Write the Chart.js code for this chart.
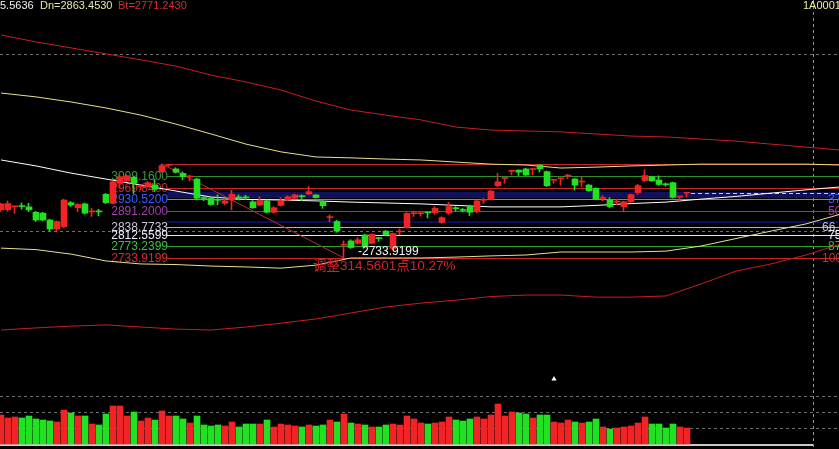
<!DOCTYPE html>
<html><head><meta charset="utf-8">
<style>html,body{margin:0;padding:0;background:#000;overflow:hidden}</style>
<script src="https://cdn.jsdelivr.net/npm/chart.js@4.4.1/dist/chart.umd.min.js"></script>
</head><body>
<canvas id="c" width="839" height="449" style="display:block;width:839px;height:449px"></canvas>
<script>
// ---- candle data (index 0..98) ----
const opens = [2895,2896,2905,2909,2905,2887,2884,2861,2831,2839, 2919,2902,2915,2888,2890,2947,2917,2984,2993,3004, 2972,2973,2978,3023,3044,3032,3017,3005,2998,2935, 2934,2929,2917,2928,2936,2936,2922,2911,2925,2887, 2910,2928,2934,2940,2948,2945,2922,2869,2856,2777, 2791,2783,2811,2783,2801,2824,2766,2821,2836,2882, 2882,2886,2886,2853,2884,2901,2895,2906,2889,2927, 2930,2976,3000,3024,3028,3032,3030,3045,3023,2994, 2999,3008,2998,2988,2978,2967,2933,2928,2921,2906, 2922,2953,2993,3006,2995,2981,2986,2938,2951];
const highs = [2918,2925,2908,2918,2917,2890,2887,2864,2858,2931, 2923,2916,2918,2900,2897,2950,2992,3012,3012,3006, 2978,2990,2998,3048.48,3046,3036,3022,3011,3001,2940, 2937,2945,2930,2961,2945,2944,2926,2939,2928,2906, 2936,2942,2948,2945,2973,2946,2925,2878,2860,2791, 2795,2802,2813,2815,2802,2826,2818,2831,2886,2891, 2887,2887,2906,2872,2920,2906,2900,2911,2928,2934, 2960,3017,3002,3028,3029,3034,3034,3046,3025,2996, 3002,3014,3000,3006,2980,2969,2943,2936,2931,2924, 2948,2981,3029,3008,3009,2985,2988,2940,2953];
const lows = [2890,2890,2884,2897,2889,2856,2858,2825,2825,2836, 2906,2889,2881,2873,2875,2916,2915,2967,2990,2950, 2962,2970,2956,3020,3040,3018,2995,2992,2928,2926, 2910,2912,2912,2895,2928,2929,2900,2908,2885,2884, 2908,2926,2931,2925,2946,2934,2900,2856,2820,2733.9199, 2766,2780,2768,2781,2790,2809,2760,2812,2834,2873, 2874,2868,2880,2850,2880,2891,2888,2876,2885,2917, 2928,2973,2984,3012,3010,3010,3012,3022,2973,2984, 2978,3000,2961,2973,2957,2929,2925,2902,2912,2891, 2920,2947,2989,2990,2977,2974,2934,2925,2939];
const closes = [2915,2916,2907,2906,2895,2861,2861,2831,2856,2928, 2911,2913,2884,2890,2888,2919,2989,3006,3009,2984, 2974,2986,2964,3043,3045,3021,3006,3007,2934,2933, 2913,2927,2925,2947,2935,2935,2902,2926,2887,2902, 2925,2939,2945,2939,2956,2936,2909,2871,2824,2780, 2769,2795,2772,2813,2799,2811,2816,2823,2883,2884, 2883,2885,2900,2869,2906,2899,2893,2887,2925,2929, 2958,2989,3001,3026,3021,3012,3032,3032,2976,2995, 3001,3010,2978,2990,2959,2931,2935,2906,2923,2922, 2946,2976,3010,2992,2980,2979,2937,2939,2952];
const volumes = [87,78,81,78,84,75,72,69,66,102, 93,84,84,60,57,90,114,114,84,96, 69,78,72,99,84,84,75,63,84,57, 54,57,54,66,51,60,60,60,72,51, 60,57,54,51,57,54,57,72,66,90, 63,60,57,51,51,57,60,57,84,75, 63,60,63,66,81,72,69,75,81,75, 87,120,84,96,93,90,78,87,87,66, 63,72,66,63,66,75,51,45,48,51, 54,63,81,60,60,48,60,51,48];

// ---- indicator lines sampled at these indices ----
const bandIdx = [0,5,10,15,20,25,30,35,40,45,50,55,60,65,70,75,80,85,90,95,100,105,110,115,120];
const upperRed = [3480,3457,3437,3417,3397,3376,3346,3323,3296,3259,3229,3212,3196,3172,3162,3159,3156,3149,3142,3139,3132,3125,3115,3105,3095];
const upperYellow = [3286,3273,3256,3236,3212,3182,3149,3115,3089,3072,3069,3065,3062,3055,3048,3045,3035,3038,3042,3045,3048,3048,3048,3048,3045];
const midWhite = [3062,3042,3018,2998,2978,2958,2938,2930,2928,2925,2921,2918,2915,2910,2905,2905,2905,2910,2916,2921,2931,2940,2951,2962,2972];
const lowerYellow = [2767,2762,2747,2724,2714,2712,2707,2704,2700,2710,2734,2734,2734,2737,2741,2744,2754,2754,2754,2757,2774,2799,2824,2848,2881];
const lowerRed = [2493,2500,2506,2510,2503,2496,2493,2503,2516,2530,2550,2570,2583,2593,2605,2610,2610,2603,2603,2607,2647,2690,2714,2744,2781];

// ---- fibonacci tool ----
const fibHighIdx = 23, fibLowIdx = 49;
const fibHigh = 3048.48, fibLow = 2733.9199;
const fibLevels = [3048.48, 3009.16, 2969.84, 2943.63, 2930.52, 2891.20, 2854.07, 2838.7733, 2812.5599, 2773.2399, 2733.9199];
const fibLabels = ['', '3009.1600', '2969.8400', '', '2930.5200', '2891.2000', '', '2838.7733', '2812.5599', '2773.2399', '2733.9199'];
const fibPct = ['', '', '', '', '37.5%', '50.0%', '', '66.7%', '75.0%', '87.5%', '100.0%'];
const fibColors = ['#c02828','#2e8f2e','#c02828','#10105c','#7c88a8','#903090','#0c0c60','#b0b0c0','#e8e8f8','#2ea02e','#c02828'];
const fibLabelColors = ['','#3a9a3a','#c83232','','#3a5cff','#a040a8','','#c8c8d8','#eef0ff','#40c040','#c83232'];
const fibWidths = [1,1,1,6,1,1,2,1,1,1,1];
const pctX = [0,0,0,0,828,828,0,822,828,828,822];

const gridPrices = [3416.5, 2824.3];
const gridVolumes = [48, 96, 144];
const vLineIdx = 116;
const headTexts = [['5.5636','#f0f0f0',0],['Dn=2863.4530','#e8e8a8',40],['Bt=2771.2430','#d03030',118]];

const RED = '#f02424', GREEN = '#22e022';
const isUp = closes.map((c,i)=>c>=opens[i]);
const colors = isUp.map(u=>u?RED:GREEN);

const pts = arr => arr.map((v,i)=>({x:bandIdx[i], y:v}));

const deco = {
  id:'deco',
  beforeDraw(c){ const ctx=c.ctx; ctx.save(); ctx.fillStyle='#000'; ctx.fillRect(0,0,c.width,c.height); ctx.restore(); },
  beforeDatasetsDraw(c){
    const ctx=c.ctx, x=c.scales.x, y=c.scales.y, yv=c.scales.yv, W=c.width, H=c.height;
    const R = v=>Math.round(v)+0.5;
    ctx.save();
    ctx.lineWidth=1; ctx.strokeStyle='#707070'; ctx.setLineDash([3,3]);
    gridPrices.forEach(p=>{const py=R(y.getPixelForValue(p)); ctx.beginPath(); ctx.moveTo(0,py); ctx.lineTo(W,py); ctx.stroke();});
    gridVolumes.forEach(v=>{const py=R(yv.getPixelForValue(v)); ctx.beginPath(); ctx.moveTo(0,py); ctx.lineTo(W,py); ctx.stroke();});
    const vx = Math.floor(x.getPixelForValue(vLineIdx))+0.5;
    ctx.strokeStyle='#909090';
    ctx.beginPath(); ctx.moveTo(vx,0); ctx.lineTo(vx,H); ctx.stroke();
    ctx.setLineDash([]);
    // volume baseline
    const by = yv.getPixelForValue(0);
    ctx.fillStyle='#c8c8c8'; ctx.fillRect(0, Math.round(by), vx-0.5, 2);
    // fib lines
    const x0 = Math.round(x.getPixelForValue(fibHighIdx)+5);
    fibLevels.forEach((lv,i)=>{
      const py = y.getPixelForValue(lv);
      ctx.strokeStyle=fibColors[i]; ctx.lineWidth=fibWidths[i];
      const yy = fibWidths[i]%2 ? R(py) : Math.round(py);
      ctx.beginPath(); ctx.moveTo(x0,yy); ctx.lineTo(W,yy); ctx.stroke();
    });
    ctx.font='12px "Liberation Sans", Arial, sans-serif'; ctx.textBaseline='middle';
    fibLevels.forEach((lv,i)=>{
      const py = Math.round(y.getPixelForValue(lv))+1;
      if(fibLabels[i]){ ctx.textAlign='right'; ctx.fillStyle=fibLabelColors[i]; ctx.fillText(fibLabels[i], x0+1, py); }
      if(fibPct[i]){ ctx.textAlign='left'; ctx.fillStyle=fibLabelColors[i]; ctx.fillText(fibPct[i], pctX[i], py); }
    });
    // last price dashed line
    const lx = x.getPixelForValue(closes.length-1)+4, ly = R(y.getPixelForValue(closes[closes.length-1]));
    ctx.strokeStyle='#c8c8f0'; ctx.lineWidth=1; ctx.setLineDash([4,3]);
    ctx.beginPath(); ctx.moveTo(lx,ly); ctx.lineTo(W,ly); ctx.stroke();
    ctx.restore();
  },
  afterDatasetsDraw(c){
    const ctx=c.ctx, x=c.scales.x, y=c.scales.y;
    ctx.save();
    ctx.textBaseline='top'; ctx.font='11px "Liberation Sans", Arial, sans-serif'; ctx.textAlign='left';
    headTexts.forEach(t=>{ctx.fillStyle=t[1]; ctx.fillText(t[0], t[2], 0);});
    ctx.fillStyle='#f0f0a0'; ctx.fillText('1A0001', 803, 0);
    // low label
    const lx = x.getPixelForValue(fibLowIdx), ly = y.getPixelForValue(fibLow);
    ctx.textBaseline='middle'; ctx.font='12px "Liberation Sans", Arial, sans-serif';
    ctx.fillStyle='#f4f4f4'; ctx.fillText('-2733.9199', lx+14, ly-6);
    ctx.font='13.5px "Liberation Sans", "Noto Sans CJK SC", sans-serif'; ctx.fillStyle='#d42424';
    ctx.fillText('调整' + (fibHigh-fibLow).toFixed(4) + '点10.27%', lx-31, ly+8);
    ctx.restore();
  }
};

const lineDs = (data, color, order) => ({type:'line', data, borderColor:color, borderWidth:1, pointRadius:0, tension:0, yAxisID:'y', xAxisID:'x', order});

new Chart(document.getElementById('c'), {
  data:{
    datasets:[
      lineDs(pts(upperRed), '#c81e1e', 9),
      lineDs(pts(upperYellow), '#e8e090', 9),
      lineDs(pts(midWhite), '#ffffff', 9),
      lineDs(pts(lowerYellow), '#e8e090', 9),
      lineDs(pts(lowerRed), '#c81e1e', 9),
      lineDs([{x:fibHighIdx,y:fibHigh},{x:fibLowIdx,y:fibLow}], '#b83030', 8),
      {type:'bar', data: volumes.map((v,i)=>({x:i,y:v})), backgroundColor:colors, barThickness:6, grouped:false, xAxisID:'x', yAxisID:'yv', order:3},
      {type:'bar', data: highs.map((h,i)=>({x:i,y:[lows[i],h]})), backgroundColor:colors, barThickness:1, grouped:false, xAxisID:'xw', yAxisID:'y', order:2},
      {type:'bar', data: opens.map((o,i)=>({x:i,y:[o,closes[i]]})), backgroundColor:colors, barThickness:6, minBarLength:1, grouped:false, xAxisID:'x', yAxisID:'y', order:1},
      {type:'scatter', data:[{x:79,y:2329}], pointStyle:'triangle', pointRadius:3, backgroundColor:'#ffffff', borderColor:'#ffffff', borderWidth:0, xAxisID:'x', yAxisID:'y', order:0}
    ]
  },
  options:{
    responsive:false, animation:false, events:[],
    layout:{padding:0, autoPadding:false},
    plugins:{legend:{display:false}, tooltip:{enabled:false}},
    scales:{
      x:{type:'linear', min:-1/7, max:838/7, display:false, offset:false},
      xw:{type:'linear', min:-0.5/7, max:838.5/7, display:false, offset:false},
      y:{type:'linear', min:2094.87, max:3597.22, display:false},
      yv:{type:'linear', min:-15, max:1332, display:false}
    }
  },
  plugins:[deco]
});
</script>
</body></html>
